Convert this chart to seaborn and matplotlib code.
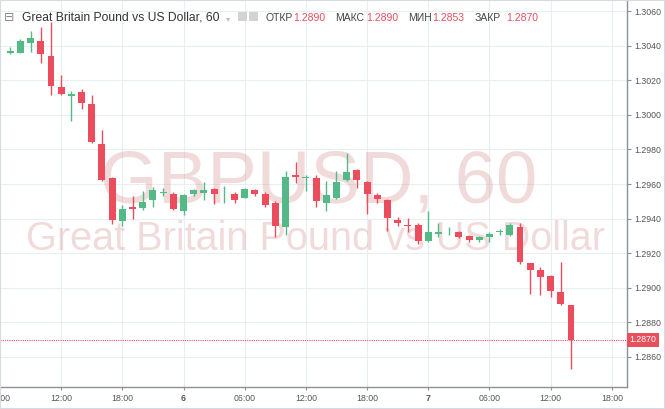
import numpy as np
import pandas as pd
import seaborn as sns
import matplotlib.pyplot as plt
from matplotlib.patches import Rectangle

# GBPUSD, 1h candles, first one is 07:00 of day 5
hours = list(range(56))
opens = [1.30356, 1.30356, 1.30417, 1.30429, 1.30341, 1.30162, 1.30109, 1.30133,
         1.30061, 1.29832, 1.29636, 1.29385, 1.29467, 1.29463, 1.29505, 1.29550,
         1.29543, 1.29442, 1.29543, 1.29550, 1.29571, 1.29535, 1.29545, 1.29522,
         1.29566, 1.29543, 1.29493, 1.29350, 1.29655, 1.29632, 1.29636, 1.29490,
         1.29518, 1.29621, 1.29680, 1.29613, 1.29535, 1.29507, 1.29394, 1.29364,
         1.29362, 1.29269, 1.29310, 1.29326, 1.29324, 1.29301, 1.29278, 1.29291,
         1.29322, 1.29307, 1.29354, 1.29145, 1.29105, 1.29067, 1.28973, 1.28900]
highs = [1.30394, 1.30438, 1.30486, 1.30508, 1.30536, 1.30229, 1.30139, 1.30147,
         1.30114, 1.29914, 1.29640, 1.29476, 1.29533, 1.29562, 1.29581, 1.29575,
         1.29552, 1.29543, 1.29571, 1.29613, 1.29575, 1.29587, 1.29552, 1.29575,
         1.29571, 1.29556, 1.29503, 1.29674, 1.29726, 1.29655, 1.29650, 1.29617,
         1.29674, 1.29779, 1.29688, 1.29617, 1.29550, 1.29512, 1.29408, 1.29402,
         1.29377, 1.29444, 1.29377, 1.29349, 1.29330, 1.29307, 1.29297, 1.29320,
         1.29339, 1.29377, 1.29377, 1.29145, 1.29120, 1.29072, 1.29152, 1.28900]
lows = [1.30354, 1.30356, 1.30362, 1.30301, 1.30114, 1.30114, 1.29966, 1.30032,
        1.29838, 1.29619, 1.29371, 1.29360, 1.29400, 1.29448, 1.29467, 1.29530,
        1.29448, 1.29419, 1.29533, 1.29510, 1.29486, 1.29491, 1.29489, 1.29518,
        1.29533, 1.29467, 1.29293, 1.29303, 1.29608, 1.29560, 1.29465, 1.29446,
        1.29512, 1.29617, 1.29579, 1.29427, 1.29493, 1.29331, 1.29360, 1.29322,
        1.29253, 1.29263, 1.29291, 1.29305, 1.29286, 1.29263, 1.29263, 1.29263,
        1.29305, 1.29301, 1.29139, 1.28962, 1.28958, 1.28949, 1.28901, 1.28530]
closes = [1.30368, 1.30429, 1.30442, 1.30349, 1.30168, 1.30118, 1.30120, 1.30067,
          1.29842, 1.29623, 1.29390, 1.29457, 1.29453, 1.29495, 1.29568, 1.29556,
          1.29453, 1.29537, 1.29564, 1.29566, 1.29543, 1.29539, 1.29510, 1.29571,
          1.29543, 1.29480, 1.29356, 1.29642, 1.29642, 1.29642, 1.29503, 1.29535,
          1.29613, 1.29670, 1.29621, 1.29541, 1.29512, 1.29402, 1.29375, 1.29356,
          1.29269, 1.29324, 1.29324, 1.29330, 1.29291, 1.29278, 1.29291, 1.29312,
          1.29326, 1.29364, 1.29152, 1.29101, 1.29063, 1.28981, 1.28905, 1.28700]

tick_hours = [-1, 5, 11, 17, 23, 29, 35, 41, 47, 53, 59]
tick_labels = ["06:00", "12:00", "18:00", "6", "06:00", "12:00", "18:00", "7",
               "06:00", "12:00", "18:00"]
price_ticks = [1.2860, 1.2880, 1.2900, 1.2920, 1.2940, 1.2960, 1.2980,
               1.3000, 1.3020, 1.3040, 1.3060]

last_price = 1.2870
ohlc_names = ["ОТКР", "МАКС", "МИН", "ЗАКР"]
ohlc_values = ["1.2890", "1.2890", "1.2853", "1.2870"]

df = pd.DataFrame({"hour": hours, "open": opens, "high": highs,
                   "low": lows, "close": closes})
df["up"] = df["close"] >= df["open"]

UP = "#53b987"
DOWN = "#eb4d5c"

sns.set_theme(style="white")
plt.rcParams["font.family"] = ["Liberation Sans", "DejaVu Sans"]

fig = plt.figure(figsize=(6.65, 4.09), dpi=100)
ax = fig.add_axes([0.0, 0.054, 0.943, 0.946])

# wicks + bodies
colors = np.where(df["up"], UP, DOWN)
ax.vlines(df["hour"], df["low"], df["high"], colors=colors, lw=1, zorder=2)
body_lo = df[["open", "close"]].min(axis=1)
body_h = (df["close"] - df["open"]).abs().clip(lower=0.00003)
ax.bar(df["hour"], body_h, bottom=body_lo, width=0.68, color=colors,
       linewidth=0, zorder=3)

ax.set_xlim(-1, 60.5)
ax.set_ylim(1.28427, 1.30664)
ax.set_xticks(tick_hours)
ax.set_xticklabels(tick_labels)
ax.set_yticks(price_ticks)
ax.set_yticklabels([f"{p:.4f}" for p in price_ticks])
ax.yaxis.tick_right()
ax.grid(True, color="#e9eef2", lw=0.8)
ax.set_axisbelow(True)
for s in ["left", "top"]:
    ax.spines[s].set_visible(False)
for s in ["right", "bottom"]:
    ax.spines[s].set_color("#8c9196")
    ax.spines[s].set_linewidth(1)
ax.tick_params(axis="y", right=True, labelsize=6.3, labelcolor="#555555",
               color="#8c9196", length=3, width=0.8, pad=2)
ax.tick_params(axis="x", bottom=True, labelsize=6.3, labelcolor="#555555",
               color="#8c9196", length=2, width=0.8, pad=3)
for t in ax.get_xticklabels():
    if t.get_text() in ("6", "7"):
        t.set_fontweight("bold")

# last price line and tag
ax.axhline(last_price, color=DOWN, lw=0.8, ls=(0, (1, 1)), zorder=1)
ax.text(1.004, last_price, f"{last_price:.4f}", transform=ax.get_yaxis_transform(),
        ha="left", va="center", fontsize=6.3, color="white", clip_on=False,
        bbox=dict(boxstyle="square,pad=0.3", fc="#e8505d", ec="none"))

# watermark
wm = (0.8, 0.45, 0.45, 0.26)
ax.text(319 / 665, 1 - 203 / 409, "GBPUSD, 60", transform=fig.transFigure,
        ha="center", va="baseline", fontsize=53.5, color=wm, zorder=0.6)
ax.text(316 / 665, 1 - 250 / 409, "Great Britain Pound vs US Dollar",
        transform=fig.transFigure, ha="center", va="baseline", fontsize=28.5,
        color=wm, zorder=0.6)

# header
base = 1 - 21 / 409
fig.text(4 / 665, base, "⊟", family=["DejaVu Sans"], fontsize=9,
         color="#8a8a8a", va="baseline")
fig.text(22 / 665, base, "Great Britain Pound vs US Dollar, 60", fontsize=8.7,
         color="#333333", va="baseline")
fig.text(226 / 665, base, "▾", family=["DejaVu Sans"], fontsize=6,
         color="#c0c0c0", va="baseline")
for x0 in (238, 249):
    fig.patches.append(Rectangle((x0 / 665, 1 - 21 / 409), 9 / 665, 9 / 409,
                                 transform=fig.transFigure, fc="#d3d3d3",
                                 ec="none"))
name_x = [265, 335, 408, 475]
val_x = [293, 366, 432, 506]
for nx, vx, n, v in zip(name_x, val_x, ohlc_names, ohlc_values):
    fig.text(nx / 665, base, n, fontsize=7.5, color="#444444", va="baseline")
    fig.text(vx / 665, base, v, fontsize=7.5, color="#e0505d", va="baseline")

# outer frame
fig.patches.append(Rectangle((0, 0), 1, 1, transform=fig.transFigure,
                             fill=False, ec="#d5dbe0", lw=1.5))

fig.savefig("out.png", dpi=100)
